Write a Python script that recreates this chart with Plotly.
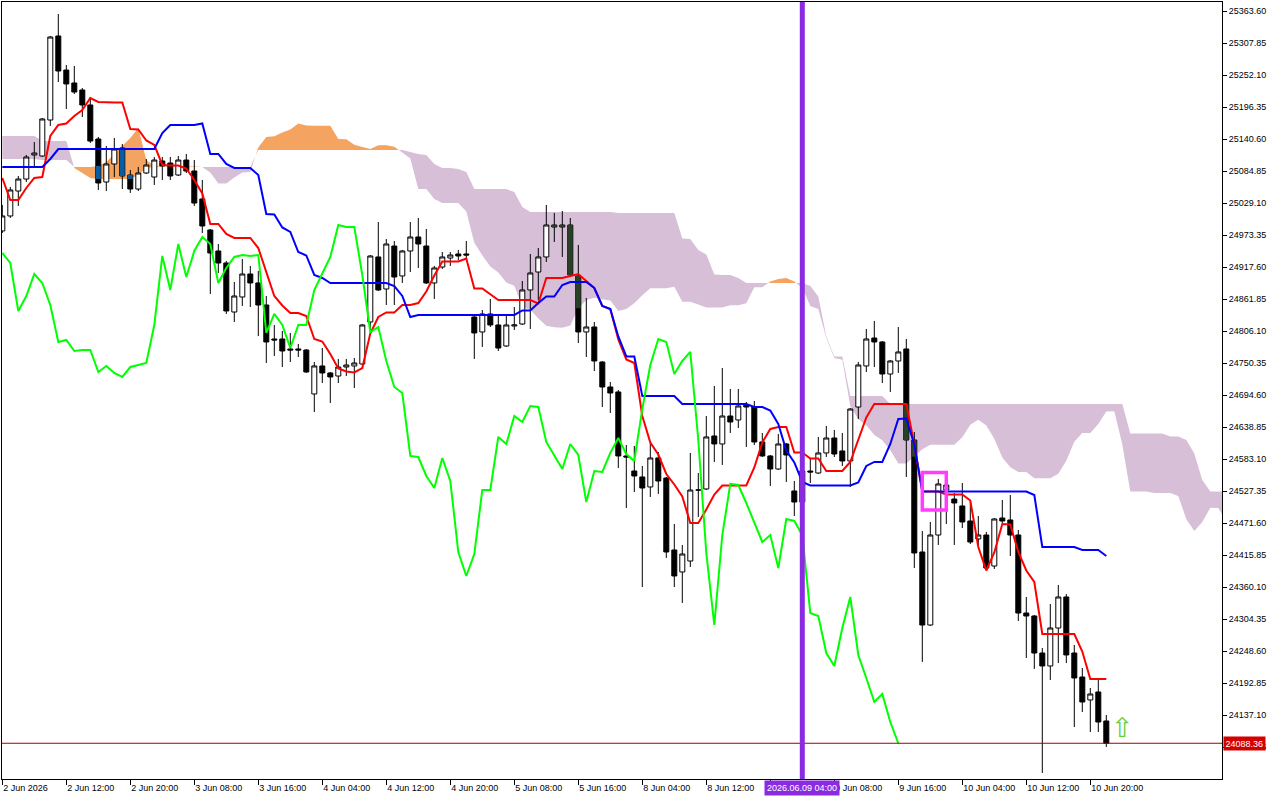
import plotly.graph_objects as go

# ---------------- data ----------------
open_ = [24980.9, 25007.0, 25050.5, 25071.4, 25113.3, 25111.5, 25174.2, 25320.6, 25261.3, 25238.7,
         25226.5, 25200.4, 25141.1, 25066.2, 25097.6, 25125.5, 25078.4, 25054.0, 25081.9, 25074.9,
         25102.8, 25099.3, 25078.4, 25104.5, 25085.4, 25036.6, 24982.6, 24946.0, 24925.1, 24839.7,
         24865.9, 24905.9, 24890.3, 24851.9, 24792.7, 24792.7, 24775.3, 24775.3, 24773.5, 24696.9,
         24745.7, 24733.5, 24728.2, 24743.9, 24745.7, 24749.1, 24822.3, 24935.6, 24879.8, 24954.7,
         24902.5, 24946.0, 24970.4, 24954.7, 24890.3, 24918.1, 24933.8, 24940.8, 24940.8, 24831.0,
         24804.9, 24836.3, 24817.1, 24780.5, 24815.3, 24818.8, 24878.1, 24909.4, 24935.6, 24991.3,
         24991.3, 24991.3, 24902.5, 24804.9, 24813.6, 24752.6, 24709.1, 24700.4, 24588.9, 24562.7,
         24552.3, 24534.9, 24585.4, 24550.5, 24425.1, 24386.8, 24405.9, 24529.6, 24531.4, 24623.7,
         24609.8, 24658.5, 24651.6, 24677.7, 24674.2, 24613.3, 24588.9, 24566.2, 24609.8, 24527.9,
         24508.7, 24562.7, 24559.2, 24594.1, 24620.2, 24597.6, 24580.2, 24674.2, 24745.7, 24794.4,
         24787.5, 24731.7, 24754.4, 24775.3, 24616.7, 24421.6, 24294.4, 24451.2, 24529.6, 24513.9,
         24501.8, 24475.6, 24444.3, 24451.2, 24397.2, 24480.8, 24477.4, 24451.2, 24315.3, 24310.1,
         24245.6, 24223.0, 24289.2, 24343.2, 24245.6, 24203.8, 24163.8, 24177.7, 24127.2]
high = [25026.2, 25057.5, 25076.7, 25113.3, 25135.9, 25177.7, 25320.6, 25358.9, 25270.1, 25268.3,
        25230.0, 25214.3, 25144.6, 25128.9, 25142.9, 25132.4, 25087.1, 25092.4, 25106.3, 25109.8,
        25109.8, 25109.8, 25111.5, 25115.0, 25104.5, 25069.7, 24984.3, 24958.2, 24928.6, 24892.0,
        24932.1, 24919.9, 24911.2, 24867.6, 24817.1, 24806.6, 24803.2, 24784.0, 24775.3, 24752.6,
        24777.0, 24735.2, 24757.9, 24757.9, 24759.6, 24818.8, 24939.0, 24996.5, 24966.9, 24963.4,
        24947.8, 24996.5, 25003.5, 24984.3, 24919.9, 24944.3, 24944.3, 24947.8, 24963.4, 24832.8,
        24843.2, 24862.4, 24832.8, 24832.8, 24848.4, 24893.7, 24940.8, 24951.2, 25026.2, 25012.2,
        25015.7, 25003.5, 24956.5, 24864.1, 24822.3, 24754.4, 24717.8, 24703.8, 24608.0, 24606.3,
        24571.4, 24611.5, 24595.8, 24552.3, 24470.4, 24433.8, 24594.1, 24559.2, 24658.5, 24710.8,
        24742.2, 24705.6, 24705.6, 24682.9, 24684.7, 24628.9, 24590.6, 24627.2, 24611.5, 24545.3,
        24568.0, 24585.4, 24622.0, 24641.1, 24634.2, 24628.9, 24672.5, 24752.6, 24810.1, 24824.1,
        24789.2, 24756.1, 24813.6, 24792.7, 24630.7, 24458.2, 24473.9, 24548.8, 24547.0, 24524.4,
        24541.8, 24508.7, 24484.3, 24456.5, 24480.8, 24512.2, 24520.9, 24459.9, 24343.2, 24311.9,
        24254.4, 24331.0, 24364.1, 24348.4, 24259.6, 24219.5, 24184.7, 24202.1, 24137.6]
low = [24977.4, 25003.5, 25024.4, 25066.2, 25092.4, 25109.8, 25163.8, 25240.4, 25193.4, 25219.5,
       25179.5, 25134.2, 25052.3, 25050.5, 25074.9, 25054.0, 25047.1, 25050.5, 25080.2, 25061.0,
       25069.7, 25069.7, 25076.7, 25081.9, 25024.4, 24977.4, 24871.1, 24907.7, 24836.3, 24822.3,
       24850.2, 24848.4, 24797.9, 24750.9, 24763.1, 24743.9, 24752.6, 24761.3, 24733.5, 24665.5,
       24716.0, 24681.2, 24716.0, 24728.2, 24707.3, 24747.4, 24803.2, 24876.3, 24851.9, 24851.9,
       24890.3, 24909.4, 24916.4, 24888.5, 24862.4, 24914.7, 24919.9, 24930.3, 24933.8, 24757.9,
       24778.8, 24813.6, 24771.8, 24778.8, 24808.4, 24817.1, 24810.1, 24860.6, 24926.8, 24961.7,
       24935.6, 24900.7, 24785.7, 24761.3, 24736.9, 24674.2, 24663.8, 24568.0, 24498.3, 24526.1,
       24360.6, 24517.4, 24522.7, 24411.2, 24360.6, 24332.8, 24395.5, 24482.6, 24529.6, 24578.4,
       24573.2, 24628.9, 24637.6, 24604.5, 24608.0, 24587.1, 24536.6, 24564.5, 24543.6, 24484.3,
       24501.8, 24541.8, 24557.5, 24587.1, 24587.1, 24571.4, 24534.9, 24653.3, 24735.2, 24743.9,
       24716.0, 24700.4, 24733.5, 24552.3, 24393.7, 24230.0, 24292.7, 24433.8, 24470.4, 24433.8,
       24463.4, 24435.5, 24432.1, 24392.0, 24392.0, 24472.1, 24414.6, 24301.4, 24236.9, 24217.8,
       24036.6, 24198.6, 24228.2, 24228.2, 24116.7, 24142.9, 24108.0, 24108.0, 24081.9]
close = [25007.0, 25052.3, 25071.4, 25109.8, 25116.7, 25176.0, 25318.8, 25259.6, 25237.0, 25223.0,
         25200.4, 25137.6, 25064.5, 25097.6, 25123.7, 25076.7, 25054.0, 25081.9, 25095.8, 25104.5,
         25094.1, 25076.7, 25104.5, 25085.4, 25029.6, 24989.6, 24942.5, 24925.1, 24841.5, 24867.6,
         24905.9, 24890.3, 24851.9, 24787.5, 24791.0, 24771.8, 24773.5, 24773.5, 24735.2, 24745.7,
         24733.5, 24726.5, 24743.9, 24747.4, 24750.9, 24817.1, 24937.3, 24878.1, 24958.2, 24900.7,
         24946.0, 24970.4, 24958.2, 24890.3, 24916.4, 24935.6, 24939.0, 24937.3, 24939.0, 24803.2,
         24836.3, 24817.1, 24777.0, 24817.1, 24817.1, 24878.1, 24907.7, 24935.6, 24991.3, 24987.8,
         24987.8, 24904.2, 24804.9, 24813.6, 24754.4, 24709.1, 24698.6, 24588.9, 24587.1, 24554.0,
         24533.1, 24585.4, 24545.3, 24421.6, 24379.8, 24418.1, 24529.6, 24529.6, 24622.0, 24609.8,
         24658.5, 24648.1, 24676.0, 24674.2, 24613.3, 24588.9, 24566.2, 24609.8, 24590.6, 24508.7,
         24562.7, 24561.0, 24594.1, 24620.2, 24592.3, 24580.2, 24670.7, 24747.4, 24792.7, 24787.5,
         24731.7, 24754.4, 24770.1, 24616.7, 24419.9, 24294.4, 24451.2, 24540.1, 24538.3, 24507.0,
         24473.9, 24439.0, 24451.2, 24393.7, 24479.1, 24475.6, 24451.2, 24315.3, 24310.1, 24245.6,
         24223.0, 24289.2, 24343.2, 24242.2, 24202.1, 24160.3, 24174.2, 24125.4, 24088.36]

# indicator values visible at the left edge (their history lies before the first bar)
tenkan_early = [25073.2, 25034.9, 25034.9, 25055.8, 25073.2, 25074.9, 25146.4, 25165.5]
kijun_early = [25092.4] * 6 + [25106.3] + [25123.7] * 13 + [25151.6] + [25165.5] * 4
span_a_early = ([25106.3] * 5 + [25104.5] * 4 + [25092.4, 25092.4, 25092.4, 25094.1, 25101.1,
                25115.0, 25128.9, 25142.9, 25160.3, 25104.5, 25094.1] + [25093.2] * 5 + [25092.4])
span_b_early = ([25146.4] * 5 + [25137.6] * 4 + [25090.6, 25081.9, 25073.2] + [25071.4] * 5 +
                [25078.4, 25090.6] + [25092.4] * 13 + [25122.0] * 19 +
                [25118.5, 25115.0, 25113.3, 25097.6, 25090.6, 25090.6, 25088.9, 25083.6] +
                [25054.0] * 5 + [25048.8, 25022.7] + [25014.0] * 11)

tick_bars = [0, 8, 16, 24, 32, 40, 48, 56, 64, 72, 80, 88, 96, 104, 112, 120, 128, 136]
# the label of bar 96 lies under the crosshair date box in the reference, so it stays blank
tick_labels = ["2 Jun 2026", "2 Jun 12:00", "2 Jun 20:00", "3 Jun 08:00", "3 Jun 16:00",
               "4 Jun 04:00", "4 Jun 12:00", "4 Jun 20:00", "5 Jun 08:00", "5 Jun 16:00",
               "8 Jun 04:00", "8 Jun 12:00", "", "9 Jun 08:00", "9 Jun 16:00",
               "10 Jun 04:00", "10 Jun 12:00", "10 Jun 20:00"]
price_ticks = [25363.60, 25307.85, 25252.10, 25196.35, 25140.60, 25084.85, 25029.10, 24973.35,
               24917.60, 24861.85, 24806.10, 24750.35, 24694.60, 24638.85, 24583.10, 24527.35,
               24471.60, 24415.85, 24360.10, 24304.35, 24248.60, 24192.85, 24137.10, 24081.35]

last_price = 24088.36
marker_bar = 100
marker_label = "2026.06.09 04:00"
box_bars = [115, 118]
box_prices = [24494.8, 24560.3]
arrow_bar = 140
arrow_price = 24115.8

# ---------------- Ichimoku (9, 26, 52) ----------------
n = len(close)
tenkan, kijun = [], []
for i in range(n):
    if i < 8:
        tenkan.append(tenkan_early[i])
    else:
        tenkan.append((max(high[i - 8:i + 1]) + min(low[i - 8:i + 1])) / 2)
    if i < 25:
        kijun.append(kijun_early[i])
    else:
        kijun.append((max(high[i - 25:i + 1]) + min(low[i - 25:i + 1])) / 2)
m = n + 26
span_a, span_b = [], []
for j in range(m):
    span_a.append(span_a_early[j] if j < 26 else (tenkan[j - 26] + kijun[j - 26]) / 2)
    span_b.append(span_b_early[j] if j < 77 else
                  (max(high[j - 77:j - 25]) + min(low[j - 77:j - 25])) / 2)

SANDY = "#F4A460"
THISTLE = "#D8BFD8"


def sgn(v):
    return 1 if v > 0 else (-1 if v < 0 else 0)


def cloud_regions(a, b):
    out = []
    cur = [(0, a[0], b[0])]
    cur_s = sgn(a[0] - b[0])
    for i in range(len(a) - 1):
        d0 = a[i] - b[i]
        d1 = a[i + 1] - b[i + 1]
        s1 = sgn(d1)
        if cur_s == 0:
            cur_s = s1
        elif s1 != 0 and s1 != cur_s:
            t = d0 / (d0 - d1) if sgn(d0) == cur_s else 0.0
            xc = i + t
            yc = a[i] + t * (a[i + 1] - a[i])
            cur.append((xc, yc, yc))
            out.append((cur_s, cur))
            cur = [(xc, yc, yc)]
            cur_s = s1
        cur.append((i + 1, a[i + 1], b[i + 1]))
    out.append((cur_s, cur))
    return out


shapes = []
for s, pts in cloud_regions(span_a, span_b):
    if s == 0 or len(pts) < 2:
        continue
    fwd = [f"{x:.4f},{ya:.3f}" for x, ya, yb in pts]
    back = [f"{x:.4f},{yb:.3f}" for x, ya, yb in reversed(pts)]
    path = "M " + " L ".join(fwd + back) + " Z"
    shapes.append(dict(type="path", path=path, xref="x", yref="y",
                       fillcolor=SANDY if s > 0 else THISTLE,
                       line=dict(width=0), layer="below"))

# black bodies drawn over the cloud appear in the inverted cloud colour
inv = {1: ([], []), -1: ([], [])}
for i in range(n):
    if close[i] >= open_[i]:
        continue
    lo, hi = close[i], open_[i]
    cmin, cmax = min(span_a[i], span_b[i]), max(span_a[i], span_b[i])
    olo, ohi = max(lo, cmin), min(hi, cmax)
    s = sgn(span_a[i] - span_b[i])
    if ohi > olo and s != 0:
        xs, ys = inv[s]
        xs += [i - 0.3, i + 0.3, i + 0.3, i - 0.3, i - 0.3, None]
        ys += [olo, olo, ohi, ohi, olo, None]

fig = go.Figure()
fig.add_trace(go.Candlestick(
    x=list(range(n)), open=open_, high=high, low=low, close=close,
    increasing=dict(line=dict(color="black", width=1), fillcolor="white"),
    decreasing=dict(line=dict(color="black", width=1), fillcolor="black"),
    whiskerwidth=0, hoverinfo="skip"))
for s, col in ((1, "#0B5B9F"), (-1, "#274027")):
    xs, ys = inv[s]
    if xs:
        fig.add_trace(go.Scatter(x=xs, y=ys, mode="lines", fill="toself", fillcolor=col,
                                 line=dict(width=0), hoverinfo="skip"))

xi = list(range(n))
fig.add_trace(go.Scatter(x=xi, y=tenkan, mode="lines", line=dict(color="#FF0000", width=2),
                         hoverinfo="skip"))
fig.add_trace(go.Scatter(x=xi, y=kijun, mode="lines", line=dict(color="#0000FF", width=2),
                         hoverinfo="skip"))
fig.add_trace(go.Scatter(x=list(range(n - 26)), y=close[26:], mode="lines",
                         line=dict(color="#00FF00", width=2), hoverinfo="skip"))

# decorations
shapes.append(dict(type="line", xref="paper", yref="y", x0=0, x1=1, y0=last_price, y1=last_price,
                   line=dict(color="#A00000", width=1), layer="above"))
shapes.append(dict(type="line", xref="x", yref="paper", x0=marker_bar, x1=marker_bar, y0=0, y1=1,
                   line=dict(color="#8A2BE2", width=5), layer="above"))
shapes.append(dict(type="rect", xref="x", yref="y", x0=box_bars[0], x1=box_bars[1],
                   y0=box_prices[0], y1=box_prices[1],
                   line=dict(color="#FF3CFF", width=3.5), layer="above"))

font = dict(family="Liberation Sans", size=9, color="black")
annotations = [
    dict(x=1, xref="paper", xanchor="left", xshift=1, y=last_price, yref="y",
         text=f"{last_price:.2f}", showarrow=False, bgcolor="#D40000",
         font=dict(family="Liberation Sans", size=9, color="white"), borderpad=1.5),
    dict(x=marker_bar, xref="x", y=0, yref="paper", yanchor="top", yshift=-1,
         text=marker_label, showarrow=False, bgcolor="#8A2BE2",
         font=dict(family="Liberation Sans", size=9, color="white"), borderpad=2),
    dict(x=arrow_bar, xref="x", y=arrow_price, yref="y", text="\u21e7", showarrow=False,
         font=dict(family="DejaVu Sans", size=27, color="#5FD03A")),
]

fig.update_layout(
    width=1280, height=800,
    margin=dict(l=2, r=58, t=2, b=21),
    paper_bgcolor="white", plot_bgcolor="white",
    showlegend=False, hovermode=False,
    boxgap=0.375, boxgroupgap=0,
    shapes=shapes, annotations=annotations,
    xaxis=dict(range=[-0.0375, 152.4625], tickmode="array", tickvals=tick_bars,
               ticktext=tick_labels, ticks="outside", ticklen=5, tickcolor="black",
               tickwidth=1, showline=True, linecolor="black", linewidth=1, mirror=True,
               showgrid=False, zeroline=False, ticklabelposition="outside right",
               tickfont=font, rangeslider=dict(visible=False), fixedrange=True),
    yaxis=dict(side="right", range=[24026.1, 25379.8], tickmode="array",
               tickvals=price_ticks, ticktext=[f"{v:.2f}" for v in price_ticks],
               ticks="outside", ticklen=4, tickcolor="black", tickwidth=1,
               showline=True, linecolor="black", linewidth=1, mirror=True,
               showgrid=False, zeroline=False, tickfont=font, fixedrange=True),
)

fig.write_html("out.html", config={"displayModeBar": False})
